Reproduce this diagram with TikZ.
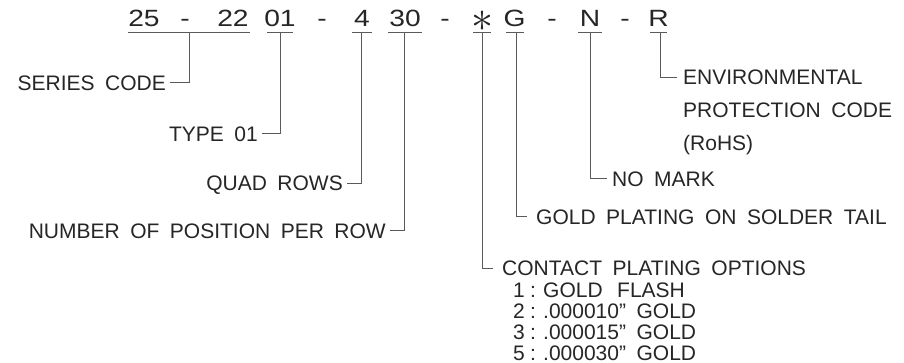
\documentclass[tikz,border=0pt]{standalone}
\usepackage{graphicx}
\usepackage{fontspec}
\setmainfont{Liberation Sans}[WordSpace=1.8]
\definecolor{txt}{HTML}{262626}
\definecolor{ln}{HTML}{5A5A5A}
\newcommand\optline[2]{\makebox[17pt][l]{#1}\makebox[13pt][l]{:}#2}
\newcommand\wide[1]{\scalebox{1.2}[1]{#1}}
\begin{document}
\begin{tikzpicture}[x=1pt,y=-1pt,
  lbl/.style={font=\fontsize{21}{21}\selectfont, inner xsep=4pt, inner ysep=0pt,
              text height=15pt, text depth=0pt, text=txt},
  optl/.style={font=\fontsize{21}{21}\selectfont, inner sep=0pt, anchor=base west, text=txt},
  part/.style={font=\fontsize{23.5}{23.5}\selectfont, inner sep=0pt, anchor=base, text=txt},
  uline/.style={draw=ln, line width=1pt},
  lead/.style={draw=ln, line width=1pt},
]
\fill[white] (0,0) rectangle (904,363);
\useasboundingbox (0,0) rectangle (904,363);

% part number
\node[part] (p25) at (144,27) {\wide{25}};
\node[part] (d1)  at (185,27) {\wide{-}};
\node[part] (p22) at (233,27) {\wide{22}};
\node[part] (p01) at (280,27) {\wide{01}};
\node[part] (d2)  at (322,27) {\wide{-}};
\node[part] (p4)  at (362,27) {\wide{4}};
\node[part] (p30) at (405,27) {\wide{30}};
\node[part] (d3)  at (445,27) {\wide{-}};
\node[inner sep=0pt, text=txt] (pst) at (482,21) {\scalebox{4.4}{$\ast$}};
\node[part] (pG)  at (514.5,27) {\wide{G}};
\node[part] (d4)  at (552,27) {\wide{-}};
\node[part] (pN)  at (590,27) {\wide{N}};
\node[part] (d5)  at (625,27) {\wide{-}};
\node[part] (pR)  at (658.5,27) {\wide{R}};

% underlines
\draw[uline] (128,33) -- (250,33);
\draw[uline] (267,33) -- (293,33);
\draw[uline] (352,33) -- (372,33);
\draw[uline] (388,33) -- (422,33);
\draw[uline] (473,33) -- (491,33);
\draw[uline] (506,33) -- (524,33);
\draw[uline] (578,33) -- (602,33);
\draw[uline] (650,33) -- (667,33);

\coordinate (useries) at (189,33);
\coordinate (utype)   at (280,33);
\coordinate (uquad)   at (361,33);
\coordinate (unum)    at (404,33);
\coordinate (ucont)   at (482,33);
\coordinate (ugold)   at (516,33);
\coordinate (umark)   at (590,33);
\coordinate (uenv)    at (660,33);

% labels on the left
\node[lbl, anchor=east] (series) at (170,83)    {SERIES CODE};
\node[lbl, anchor=east] (type)   at (262,134)   {TYPE 01};
\node[lbl, anchor=east] (quad)   at (347,183.5) {QUAD ROWS};
\node[lbl, anchor=east] (num)    at (390,231)   {NUMBER OF POSITION PER ROW};

% labels on the right
\node[lbl, anchor=west, inner xsep=6pt] (env1) at (677,77.5) {ENVIRONMENTAL};
\node[lbl, anchor=west, inner xsep=6pt] (env2) at (677,110.5) {PROTECTION CODE};
\node[lbl, anchor=west, inner xsep=6pt] (env3) at (677,143.5) {(RoHS)};
\node[lbl, anchor=west, inner xsep=5pt] (nomark) at (607,179) {NO MARK};
\node[lbl, anchor=west, inner xsep=9pt] (gold) at (527,217) {GOLD PLATING ON SOLDER TAIL};
\node[lbl, anchor=west, inner xsep=9pt] (contact) at (493,268) {CONTACT PLATING OPTIONS};
\node[optl] (opt1) at (513,297) {\optline{1}{GOLD\hspace{4pt} FLASH}};
\node[optl] (opt2) at (513,318) {\optline{2}{.000010” GOLD}};
\node[optl] (opt3) at (513,339.5) {\optline{3}{.000015” GOLD}};
\node[optl] (opt4) at (513,360) {\optline{5}{.000030” GOLD}};

% leaders
\draw[lead] (useries) |- (series.east);
\draw[lead] (utype)   |- (type.east);
\draw[lead] (uquad)   |- (quad.east);
\draw[lead] (unum)    |- (num.east);
\draw[lead] (ucont)   |- (contact.west);
\draw[lead] (ugold)   |- (gold.west);
\draw[lead] (umark)   |- (nomark.west);
\draw[lead] (uenv)    |- (env1.west);
\end{tikzpicture}
\end{document}
